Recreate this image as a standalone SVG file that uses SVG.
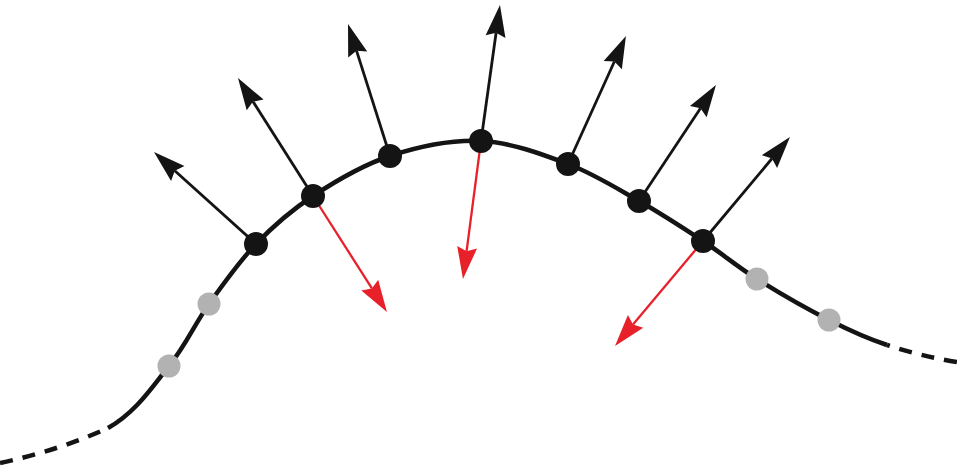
<svg xmlns="http://www.w3.org/2000/svg" width="957" height="467" viewBox="0 0 957 467">
  <defs>
    <style>
      .curve { fill: none; stroke: #141414; stroke-width: 4.5; stroke-linecap: butt; }
      .dash { fill: none; stroke: #141414; stroke-width: 4.5; stroke-dasharray: 13 10; }
      .out { stroke: #141414; stroke-width: 2.8; fill: none; }
      .in { stroke: #e8202a; stroke-width: 2.3; fill: none; }
      .node { fill: #141414; }
      .gray { fill: #b2b2b2; }
    </style>
    <marker id="headBlack" markerUnits="userSpaceOnUse" orient="auto" refX="0" refY="0" markerWidth="40" markerHeight="30" overflow="visible">
      <path d="M28,0 L-4,-10 L0,0 L-4,10 Z" fill="#141414"/>
    </marker>
    <marker id="headRed" markerUnits="userSpaceOnUse" orient="auto" refX="0" refY="0" markerWidth="40" markerHeight="30" overflow="visible">
      <path d="M28,0 L-4,-10 L0,0 L-4,10 Z" fill="#e8202a"/>
    </marker>
  </defs>
  <rect width="957" height="467" fill="#ffffff"/>

  <g id="connectors">
    <path class="dash" d="M0,463 Q60,450 108,428"/>
    <path class="curve" d="M108,428 C136.2,412 152.2,386.7 169,366 C185.8,345.3 194.5,324.3 209,304 C223.5,283.7 238.7,262 256,244 C273.3,226 290.7,210.7 313,196 C335.3,181.3 362,165.2 390,156 C418,146.8 451.3,139.7 481,141 C510.7,142.3 541.7,154 568,164 C594.3,174 616.5,188.2 639,201 C661.5,213.8 683.3,228 703,241 C722.7,254 736,265.8 757,279 C778,292.2 807.3,309 829,320 C850.7,331 865.7,338 887,345"/>
    <path class="dash" d="M887,345 Q920,356 957,362" stroke-dashoffset="-13"/>

    <line class="out" x1="256" y1="244" x2="174.8" y2="170.8" marker-end="url(#headBlack)"/>
    <line class="out" x1="313" y1="196" x2="253" y2="101.6" marker-end="url(#headBlack)"/>
    <line class="out" x1="390" y1="156" x2="356.5" y2="50.7" marker-end="url(#headBlack)"/>
    <line class="out" x1="481" y1="141" x2="496.1" y2="32.7" marker-end="url(#headBlack)"/>
    <line class="out" x1="568" y1="164" x2="614.4" y2="61.5" marker-end="url(#headBlack)"/>
    <line class="out" x1="639" y1="201" x2="700.5" y2="108.3" marker-end="url(#headBlack)"/>
    <line class="out" x1="703" y1="241" x2="772" y2="158.5" marker-end="url(#headBlack)"/>

    <line class="in" x1="313" y1="196" x2="371.9" y2="288.4" marker-end="url(#headRed)"/>
    <line class="in" x1="481" y1="141" x2="466.6" y2="251.2" marker-end="url(#headRed)"/>
    <line class="in" x1="703" y1="241" x2="633" y2="324.5" marker-end="url(#headRed)"/>
  </g>

  <g id="g1"><circle class="gray" cx="169" cy="366" r="11.5"/></g>
  <g id="g2"><circle class="gray" cx="209" cy="304" r="11.5"/></g>
  <g id="n1"><circle class="node" cx="256" cy="244" r="12"/></g>
  <g id="n2"><circle class="node" cx="313" cy="196" r="12"/></g>
  <g id="n3"><circle class="node" cx="390" cy="156" r="12"/></g>
  <g id="n4"><circle class="node" cx="481" cy="141" r="12"/></g>
  <g id="n5"><circle class="node" cx="568" cy="164" r="12"/></g>
  <g id="n6"><circle class="node" cx="639" cy="201" r="12"/></g>
  <g id="n7"><circle class="node" cx="703" cy="241" r="12"/></g>
  <g id="g3"><circle class="gray" cx="757" cy="279" r="11.5"/></g>
  <g id="g4"><circle class="gray" cx="829" cy="320" r="11.5"/></g>
</svg>
